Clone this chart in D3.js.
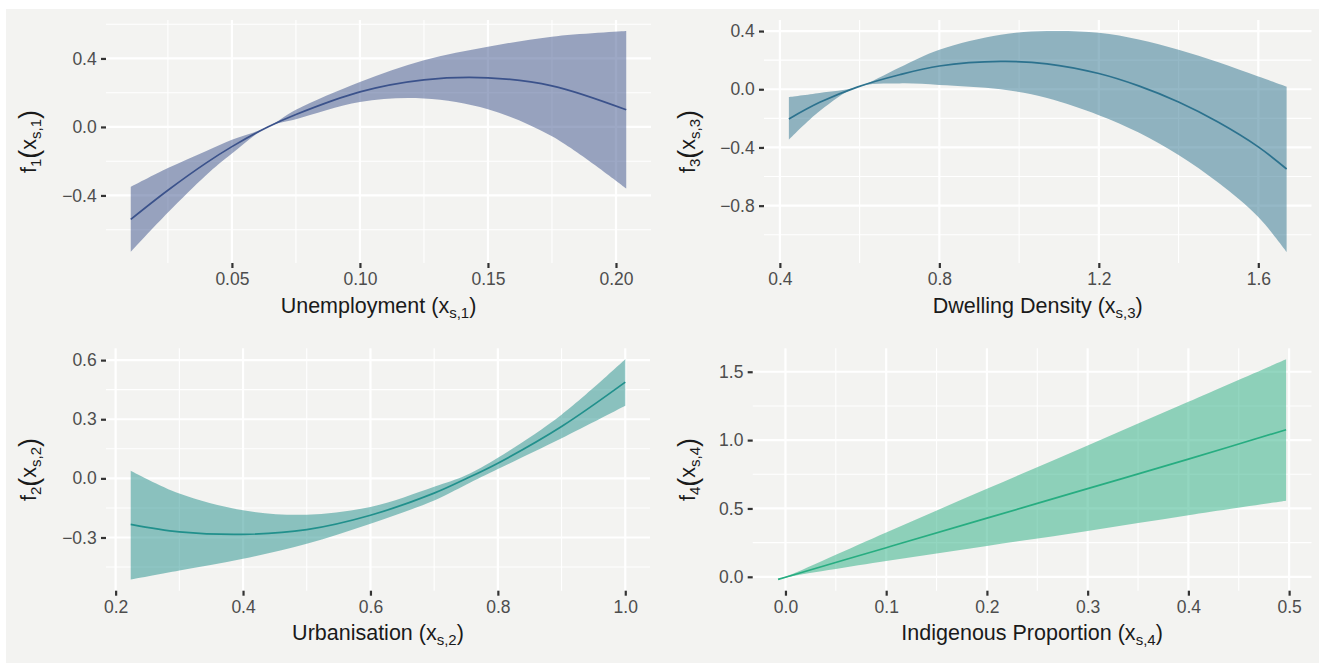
<!DOCTYPE html>
<html>
<head>
<meta charset="utf-8">
<script src="https://cdn.jsdelivr.net/npm/d3@7"></script>
<style>
  html, body { margin: 0; padding: 0; background: #ffffff; }
  svg { display: block; }
</style>
</head>
<body>
<svg id="chart" width="1323" height="663"></svg>
<script>
// ---------------- DATA ----------------
// Panel f1 : Unemployment
const f1X     = [0.0105, 0.025, 0.04, 0.05, 0.064, 0.075, 0.10, 0.125, 0.15, 0.175, 0.204];
const f1Mean  = [-0.54, -0.37, -0.21, -0.115, 0.0, 0.073, 0.205, 0.275, 0.287, 0.24, 0.10];
const f1Upper = [-0.35, -0.24, -0.14, -0.075, 0.0, 0.10, 0.263, 0.39, 0.468, 0.527, 0.56];
const f1Lower = [-0.73, -0.50, -0.28, -0.155, 0.0, 0.045, 0.146, 0.166, 0.103, -0.055, -0.36];
const f1XTicks = [0.05, 0.10, 0.15, 0.20];
const f1XTickLabels = ["0.05", "0.10", "0.15", "0.20"];
const f1XMinor = [0.025, 0.075, 0.125, 0.175];
const f1YTicks = [-0.4, 0.0, 0.4];
const f1YTickLabels = ["\u22120.4", "0.0", "0.4"];
const f1YMinor = [-0.6, -0.2, 0.2, 0.6];

// Panel f3 : Dwelling Density
const f3X     = [0.4226, 0.5, 0.594, 0.7, 0.8, 0.954, 1.07, 1.2, 1.3, 1.4, 1.5, 1.6, 1.671];
const f3Mean  = [-0.204, -0.09, 0.015, 0.10, 0.16, 0.191, 0.175, 0.108, 0.023, -0.088, -0.227, -0.396, -0.548];
const f3Upper = [-0.053, -0.025, 0.015, 0.15, 0.272, 0.375, 0.40, 0.388, 0.342, 0.272, 0.185, 0.087, 0.018];
const f3Lower = [-0.347, -0.15, 0.015, 0.04, 0.03, 0.0, -0.06, -0.178, -0.298, -0.452, -0.643, -0.878, -1.118];
const f3XTicks = [0.4, 0.8, 1.2, 1.6];
const f3XTickLabels = ["0.4", "0.8", "1.2", "1.6"];
const f3XMinor = [0.6, 1.0, 1.4];
const f3YTicks = [-0.8, -0.4, 0.0, 0.4];
const f3YTickLabels = ["\u22120.8", "\u22120.4", "0.0", "0.4"];
const f3YMinor = [-1.0, -0.6, -0.2, 0.2];

// Panel f2 : Urbanisation
const f2X     = [0.2237, 0.3, 0.4, 0.5, 0.6, 0.7, 0.75, 0.8, 0.9, 1.0];
const f2Mean  = [-0.233, -0.271, -0.284, -0.26, -0.187, -0.075, -0.002, 0.077, 0.263, 0.488];
const f2Upper = [0.039, -0.077, -0.162, -0.184, -0.145, -0.042, 0.016, 0.105, 0.323, 0.604];
const f2Lower = [-0.514, -0.468, -0.408, -0.332, -0.23, -0.112, -0.032, 0.047, 0.204, 0.369];
const f2XTicks = [0.2, 0.4, 0.6, 0.8, 1.0];
const f2XTickLabels = ["0.2", "0.4", "0.6", "0.8", "1.0"];
const f2XMinor = [0.3, 0.5, 0.7, 0.9];
const f2YTicks = [-0.3, 0.0, 0.3, 0.6];
const f2YTickLabels = ["\u22120.3", "0.0", "0.3", "0.6"];
const f2YMinor = [-0.45, -0.15, 0.15, 0.45];

// Panel f4 : Indigenous Proportion
const f4X     = [-0.0073, 0.0, 0.1, 0.2, 0.3, 0.4, 0.497];
const f4Mean  = [-0.019, -0.003, 0.213, 0.429, 0.645, 0.861, 1.076];
const f4Upper = [-0.017, 0.0, 0.324, 0.644, 0.96, 1.28, 1.591];
const f4Lower = [-0.021, -0.006, 0.115, 0.226, 0.336, 0.451, 0.557];
const f4XTicks = [0.0, 0.1, 0.2, 0.3, 0.4, 0.5];
const f4XTickLabels = ["0.0", "0.1", "0.2", "0.3", "0.4", "0.5"];
const f4XMinor = [0.05, 0.15, 0.25, 0.35, 0.45];
const f4YTicks = [0.0, 0.5, 1.0, 1.5];
const f4YTickLabels = ["0.0", "0.5", "1.0", "1.5"];
const f4YMinor = [0.25, 0.75, 1.25];

// Titles (text pieces: main, subscript, closing)
const f1XTitle = ["Unemployment (x", "s,1", ")"];
const f3XTitle = ["Dwelling Density (x", "s,3", ")"];
const f2XTitle = ["Urbanisation (x", "s,2", ")"];
const f4XTitle = ["Indigenous Proportion (x", "s,4", ")"];

// ---------------- STYLE / LAYOUT ----------------
const FONT = "'Liberation Sans', Arial, Helvetica, sans-serif";
const BG = "#f3f3f1";

const panels = [
  { x: f1X, mean: f1Mean, upper: f1Upper, lower: f1Lower,
    xTicks: f1XTicks, xLabels: f1XTickLabels, xMinor: f1XMinor,
    yTicks: f1YTicks, yLabels: f1YTickLabels, yMinor: f1YMinor,
    color: "#3b528b", box: { x0: 106, x1: 651, y0: 20, y1: 263 },
    xTitle: f1XTitle, yIdx: "1", ySub: "s,1", yTitleX: 36 },
  { x: f3X, mean: f3Mean, upper: f3Upper, lower: f3Lower,
    xTicks: f3XTicks, xLabels: f3XTickLabels, xMinor: f3XMinor,
    yTicks: f3YTicks, yLabels: f3YTickLabels, yMinor: f3YMinor,
    color: "#2c728e", box: { x0: 764, x1: 1311.5, y0: 20, y1: 263 },
    xTitle: f3XTitle, yIdx: "3", ySub: "s,3", yTitleX: 695 },
  { x: f2X, mean: f2Mean, upper: f2Upper, lower: f2Lower,
    xTicks: f2XTicks, xLabels: f2XTickLabels, xMinor: f2XMinor,
    yTicks: f2YTicks, yLabels: f2YTickLabels, yMinor: f2YMinor,
    color: "#21908c", box: { x0: 106, x1: 650, y0: 348.3, y1: 590.7 },
    xTitle: f2XTitle, yIdx: "2", ySub: "s,2", yTitleX: 36 },
  { x: f4X, mean: f4Mean, upper: f4Upper, lower: f4Lower,
    xTicks: f4XTicks, xLabels: f4XTickLabels, xMinor: f4XMinor,
    yTicks: f4YTicks, yLabels: f4YTickLabels, yMinor: f4YMinor,
    color: "#27ad81", box: { x0: 752.7, x1: 1311.5, y0: 348.3, y1: 590.7 },
    xTitle: f4XTitle, yIdx: "4", ySub: "s,4", yTitleX: 695 }
];

const svg = d3.select("#chart");
svg.append("rect").attr("x", 6).attr("y", 9).attr("width", 1313).attr("height", 654).attr("fill", BG);

function expand(ext) {
  const d = (ext[1] - ext[0]) * 0.05;
  return [ext[0] - d, ext[1] + d];
}

panels.forEach(p => {
  const b = p.box;
  const g = svg.append("g");
  const idx = d3.range(p.x.length);
  const x = d3.scaleLinear().domain(expand(d3.extent(p.x))).range([b.x0, b.x1]);
  const yExt = d3.extent(p.lower.concat(p.upper, p.mean));
  const y = d3.scaleLinear().domain(expand(yExt)).range([b.y1, b.y0]);

  // grid
  const grid = g.append("g");
  p.xMinor.forEach(v => grid.append("line").attr("x1", x(v)).attr("x2", x(v)).attr("y1", b.y0).attr("y2", b.y1)
      .attr("stroke", "#ffffff").attr("stroke-width", 1.1));
  p.yMinor.forEach(v => grid.append("line").attr("y1", y(v)).attr("y2", y(v)).attr("x1", b.x0).attr("x2", b.x1)
      .attr("stroke", "#ffffff").attr("stroke-width", 1.1));
  p.xTicks.forEach(v => grid.append("line").attr("x1", x(v)).attr("x2", x(v)).attr("y1", b.y0).attr("y2", b.y1)
      .attr("stroke", "#ffffff").attr("stroke-width", 2.2));
  p.yTicks.forEach(v => grid.append("line").attr("y1", y(v)).attr("y2", y(v)).attr("x1", b.x0).attr("x2", b.x1)
      .attr("stroke", "#ffffff").attr("stroke-width", 2.2));

  const curve = d3.curveCatmullRom.alpha(0.5);
  // ribbon
  const area = d3.area().x(i => x(p.x[i])).y0(i => y(p.lower[i])).y1(i => y(p.upper[i])).curve(curve);
  g.append("path").attr("d", area(idx)).attr("fill", p.color).attr("fill-opacity", 0.5);

  // mean line
  const line = d3.line().x(i => x(p.x[i])).y(i => y(p.mean[i])).curve(curve);
  g.append("path").attr("d", line(idx)).attr("fill", "none").attr("stroke", p.color).attr("stroke-width", 1.7);

  // axes
  const xa = g.append("g").attr("transform", `translate(0,${b.y1})`)
    .call(d3.axisBottom(x).tickValues(p.xTicks).tickFormat((d, i) => p.xLabels[i]).tickSize(5).tickPadding(4.5));
  const ya = g.append("g").attr("transform", `translate(${b.x0},0)`)
    .call(d3.axisLeft(y).tickValues(p.yTicks).tickFormat((d, i) => p.yLabels[i]).tickSize(5).tickPadding(4.3));
  [xa, ya].forEach(a => {
    a.select(".domain").remove();
    a.selectAll(".tick line").attr("stroke", "#333333").attr("stroke-width", 2.2);
    a.selectAll(".tick text").attr("fill", "#4d4d4d").style("font-family", FONT).style("font-size", "17.5px");
  });

  // x title
  const xt = g.append("text").attr("x", (b.x0 + b.x1) / 2).attr("y", b.y1 + 49.5)
    .attr("text-anchor", "middle").attr("fill", "#1a1a1a")
    .style("font-family", FONT).style("font-size", "21.5px");
  xt.append("tspan").text(p.xTitle[0]);
  xt.append("tspan").attr("dy", 5).style("font-size", "15px").text(p.xTitle[1]);
  xt.append("tspan").attr("dy", -5).text(p.xTitle[2]);

  // y title
  const cy = (b.y0 + b.y1) / 2;
  const yt = g.append("text").attr("transform", `translate(${p.yTitleX},${cy}) rotate(-90)`)
    .attr("text-anchor", "middle").attr("fill", "#1a1a1a")
    .style("font-family", FONT).style("font-size", "21.5px");
  yt.append("tspan").text("f");
  yt.append("tspan").attr("dy", 5).style("font-size", "15px").text(p.yIdx);
  yt.append("tspan").attr("dy", -3).style("font-size", "27px").text("(");
  yt.append("tspan").attr("dy", -2).text("x");
  yt.append("tspan").attr("dy", 5).style("font-size", "15px").text(p.ySub);
  yt.append("tspan").attr("dy", -3).style("font-size", "27px").text(")");
});
</script>
</body>
</html>
